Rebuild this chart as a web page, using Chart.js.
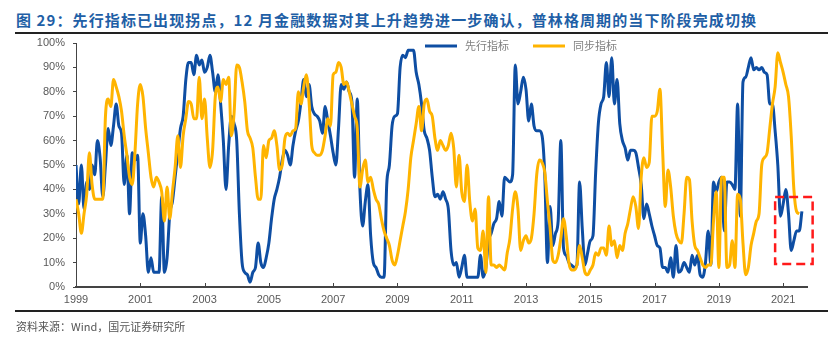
<!DOCTYPE html>
<html>
<head>
<meta charset="utf-8">
<script src="https://cdn.jsdelivr.net/npm/chart.js@4.4.0/dist/chart.umd.min.js"></script>
<style>
  html, body { margin: 0; padding: 0; background: #fff; }
  #wrap { position: relative; width: 828px; height: 343px; overflow: hidden; }
  #title { position: absolute; left: 16px; top: 11px; font: bold 15px "Noto Sans CJK SC"; color: #1f5fa6; letter-spacing: 1.1px; white-space: nowrap; line-height: 18px; }
  .rule { position: absolute; left: 15px; right: 0; height: 2px; background: #222; }
  #source { position: absolute; left: 16px; top: 319px; font: 11px "Noto Sans CJK SC"; color: #555; letter-spacing: 0; line-height: 14px; white-space: nowrap; }
  canvas { position: absolute; left: 0; top: 0; }
</style>
</head>
<body>
<div id="wrap">
  <div id="title">图 29：先行指标已出现拐点，12 月金融数据对其上升趋势进一步确认，普林格周期的当下阶段完成切换</div>
  <div class="rule" style="top:32px"></div>
  <canvas id="chart" width="828" height="343"></canvas>
  <div class="rule" style="top:310px"></div>
  <div id="source">资料来源：Wind，国元证券研究所</div>
</div>
<script>
// 月度数据，1999-01 起
const startYear = 1999;
const seriesNames = ['先行指标', '同步指标'];
const seriesColors = ['#0e4ea3', '#ffb400'];

const leading = [
  50,34,50,32,43,40,50,46,60,53,37,50,   // 1999
  65,58,66,75,66,63,42,54,30,55,52,54,   // 2000
  18,30,21,6,12,6,6,6,37,6,12,30,        // 2001
  35,45,55,65,70,85,92,92,87,95,91,93,   // 2002
  88,90,95,88,80,87,75,60,40,58,70,67,   // 2003
  60,30,10,6,5,2,6,8,18,10,8,12,         // 2004
  18,28,36,40,45,52,56,54,50,58,64,68,   // 2005
  76,85,78,83,74,71,70,68,63,74,68,62,   // 2006
  55,50,65,83,81,84,80,76,45,77,40,25,   // 2007
  35,42,21,10,8,5,4,4,42,50,66,70,       // 2008
  71,90,95,94,97,97,97,88,83,75,64,61,   // 2009
  56,45,37,38,36,39,36,32,15,9,10,4,     // 2010
  8,13,4,4,4,4,4,13,4,8,19,22,           // 2011
  26,28,35,29,45,44,43,46,91,75,80,86,   // 2012
  81,68,75,66,64,64,62,46,10,33,17,22,   // 2013
  27,60,16,13,10,9,8,9,43,24,9,14,       // 2014
  19,21,47,67,75,78,92,78,94,75,85,67,   // 2015
  60,57,52,56,56,55,49,42,28,34,30,25,   // 2016
  21,17,16,8,8,6,12,4,17,6,7,10,         // 2017
  8,6,13,9,13,5,4,10,23,9,43,39,         // 2018
  43,45,23,43,43,42,40,75,29,84,86,90,   // 2019
  94,89,90,89,90,88,87,75,75,64,50,29,   // 2020
  34,40,30,15,19,23,23,31                // 2021
];

const coincident = [
  36,30,22,30,38,55,42,36,36,36,36,70,   // 1999
  77,74,85,82,78,72,62,54,45,42,55,75,   // 2000
  83,78,65,55,45,41,45,43,39,27,41,28,   // 2001
  39,49,62,49,62,69,76,75,69,69,86,69,   // 2002
  77,61,49,56,78,82,76,85,83,86,62,71,   // 2003
  91,90,84,76,64,61,57,45,36,36,58,53,   // 2004
  60,61,64,58,48,50,61,63,62,64,65,80,   // 2005
  75,82,87,76,58,55,54,54,56,62,69,66,   // 2006
  87,88,92,90,83,84,80,75,70,65,41,48,   // 2007
  52,43,45,40,36,34,28,23,20,17,11,9,    // 2008
  13,19,25,31,40,53,60,67,74,64,75,77,   // 2009
  72,70,61,56,60,58,56,58,63,57,41,54,   // 2010
  39,35,50,35,27,32,16,15,23,6,37,9,     // 2011
  9,8,9,8,7,14,20,32,39,32,15,19,        // 2012
  21,18,20,30,46,52,51,47,35,24,11,10,   // 2013
  13,20,28,21,10,7,7,9,17,12,6,5,        // 2014
  7,9,14,13,16,16,13,25,17,19,12,17,     // 2015
  15,22,26,32,37,33,24,45,53,49,51,70,   // 2016
  70,72,81,56,33,48,41,29,22,19,18,30,   // 2017
  45,44,27,17,15,12,9,8,9,9,27,39,       // 2018
  8,45,45,8,9,19,8,38,36,18,5,8,         // 2019
  17,22,27,30,50,53,55,65,75,82,96,92,   // 2020
  88,83,78,62,40,31,30                   // 2021
];

// 红色虚线框：月份序号与百分比范围
const highlightMonths = [261, 275];
const highlightLevels = [9.4, 36.9];
const axisEndMonth = 272.9;

const toPoints = arr => arr.map((v, i) => ({ x: i, y: v }));

const decor = {
  id: 'decor',
  afterDatasetsDraw(chart) {
    const { ctx, chartArea, scales: { x, y } } = chart;
    ctx.save();

    // x 轴刻度线（朝内）
    ctx.strokeStyle = '#444';
    ctx.lineWidth = 1;
    x.ticks.forEach(t => {
      if (t.value === 0) return;
      const px = Math.round(x.getPixelForValue(t.value)) + 0.5;
      ctx.beginPath();
      ctx.moveTo(px, chartArea.bottom);
      ctx.lineTo(px, chartArea.bottom - 4);
      ctx.stroke();
    });

    // 红框
    const bx0 = x.getPixelForValue(highlightMonths[0]);
    const bx1 = x.getPixelForValue(highlightMonths[1]);
    const by0 = y.getPixelForValue(highlightLevels[1]);
    const by1 = y.getPixelForValue(highlightLevels[0]);
    ctx.strokeStyle = '#ff1a1a';
    ctx.lineWidth = 2.5;
    ctx.setLineDash([9, 5]);
    ctx.strokeRect(bx0, by0, bx1 - bx0, by1 - by0);
    ctx.setLineDash([]);

    // 图例
    let lx = 425;
    const ly = 46;
    ctx.font = '11px "Noto Sans CJK SC"';
    ctx.textBaseline = 'middle';
    chart.data.datasets.forEach(ds => {
      ctx.strokeStyle = ds.borderColor;
      ctx.lineWidth = 3;
      ctx.beginPath();
      ctx.moveTo(lx, ly);
      ctx.lineTo(lx + 32, ly);
      ctx.stroke();
      ctx.fillStyle = '#808080';
      ctx.fillText(ds.label, lx + 40, ly);
      lx += 40 + ctx.measureText(ds.label).width + 24;
    });
    ctx.restore();
  }
};

new Chart(document.getElementById('chart'), {
  type: 'line',
  data: {
    datasets: [
      {
        label: seriesNames[0],
        data: toPoints(leading),
        borderColor: seriesColors[0],
        borderWidth: 3,
        pointRadius: 0,
        cubicInterpolationMode: 'monotone',
        borderJoinStyle: 'round',
        order: 1
      },
      {
        label: seriesNames[1],
        data: toPoints(coincident),
        borderColor: seriesColors[1],
        borderWidth: 3,
        pointRadius: 0,
        cubicInterpolationMode: 'monotone',
        borderJoinStyle: 'round',
        order: 0
      }
    ]
  },
  options: {
    responsive: false,
    animation: false,
    devicePixelRatio: 1,
    layout: { padding: { left: 0, top: 43, right: 21, bottom: 0 } },
    plugins: { legend: { display: false }, tooltip: { enabled: false } },
    scales: {
      x: {
        type: 'linear',
        min: 0,
        max: axisEndMonth,
        afterFit: s => { s.height = 56; },
        grid: { display: false, drawTicks: false },
        border: { display: true, color: '#444', width: 2 },
        ticks: {
          stepSize: 24,
          includeBounds: false,
          autoSkip: false,
          maxRotation: 0,
          padding: 6,
          color: '#595959',
          font: { family: 'Liberation Sans', size: 11 },
          callback: v => (v % 24 === 0 ? String(startYear + v / 12) : '')
        }
      },
      y: {
        min: 0,
        max: 100,
        afterFit: s => { s.width = 76; },
        grid: { drawOnChartArea: false, drawTicks: true, tickLength: 3, color: '#444' },
        border: { display: true, color: '#444', width: 1 },
        ticks: {
          stepSize: 10,
          padding: 8,
          color: '#595959',
          font: { family: 'Liberation Sans', size: 11 },
          callback: v => v + '%'
        }
      }
    }
  },
  plugins: [decor]
});
</script>
</body>
</html>
